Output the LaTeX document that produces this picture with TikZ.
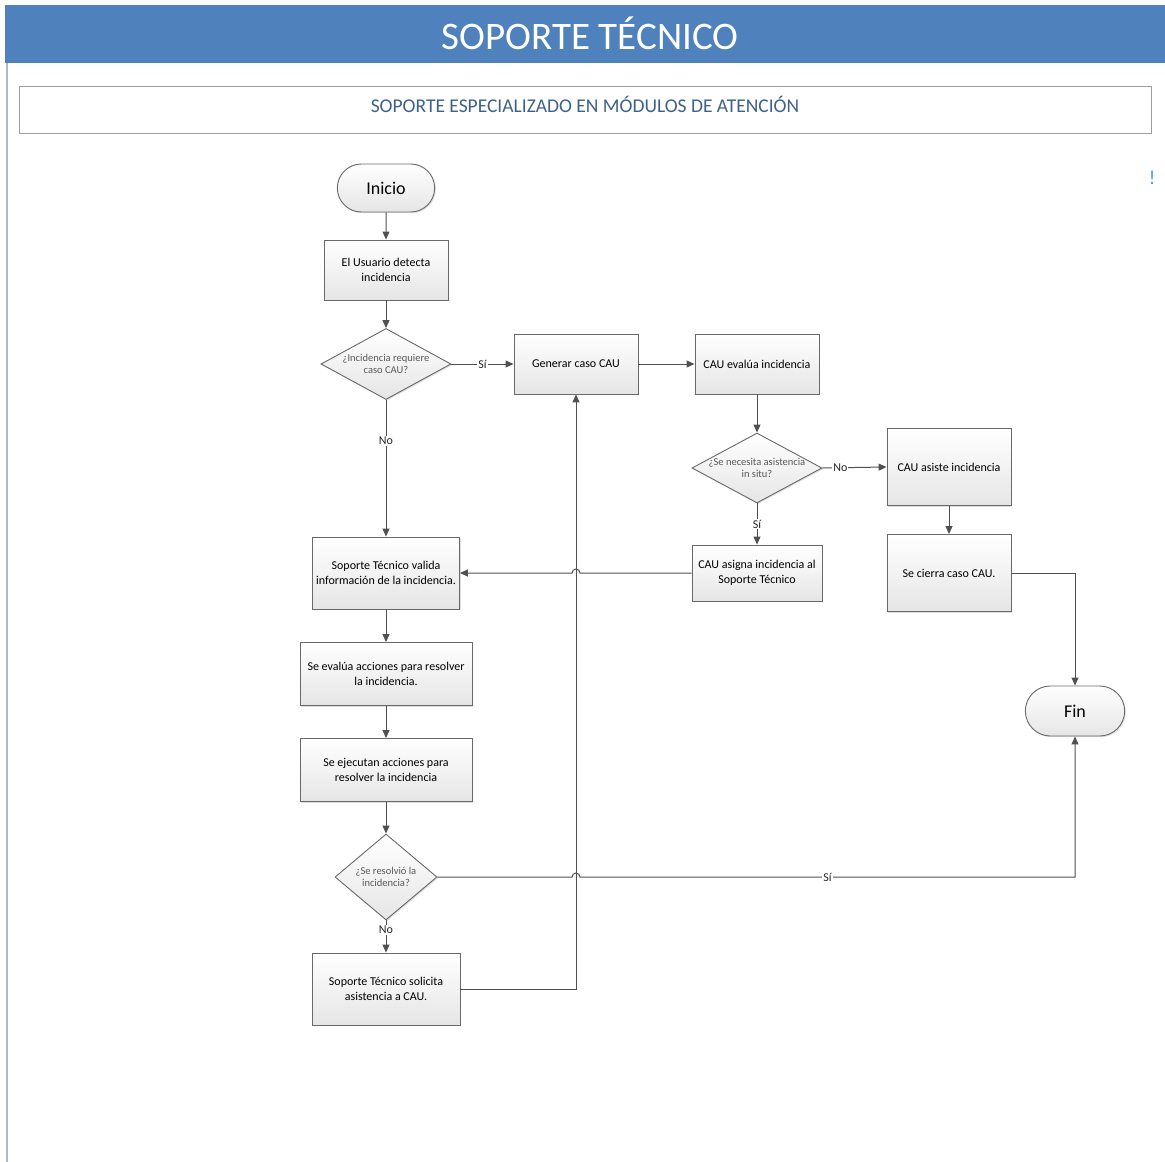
\documentclass[tikz,border=0pt]{standalone}
\usepackage{fontspec}
\setmainfont{Carlito}
\usetikzlibrary{arrows.meta, shapes.geometric, shapes.misc, shadows, calc}
\definecolor{headblue}{RGB}{79,129,189}
\definecolor{subblue}{RGB}{62,98,138}
\definecolor{boxline}{RGB}{105,105,105}
\definecolor{flowline}{RGB}{80,80,80}
\definecolor{framegray}{RGB}{176,186,198}
\definecolor{marktone}{RGB}{60,160,220}

\begin{document}
\begin{tikzpicture}[x=1pt, y=-1pt,
    shaded/.style={draw=boxline, line width=0.9pt, top color=white, bottom color=black!10,
        drop shadow={shadow xshift=1.2pt, shadow yshift=-1.2pt, opacity=0.25}},
    box/.style={rectangle, shaded, align=center, inner sep=2pt, font=\fontsize{12}{15}\selectfont},
    terminal/.style={rounded rectangle, shaded, font=\fontsize{18}{20}\selectfont},
    decision/.style={diamond, shaded, inner sep=0pt},
    dtext/.style={align=center, inner sep=0pt, text=black!65, font=\fontsize{10.5}{12.5}\selectfont},
    lbl/.style={fill=white, inner sep=1pt, text=black!85, font=\fontsize{12}{14}\selectfont},
    flow/.style={draw=flowline, line width=1pt, -{Triangle[length=8pt, width=7pt]}}
]
        \useasboundingbox (0,0) rectangle (1165,1162);
        
        % header and frame
        \fill[headblue] (5,5) rectangle (1165,63);
        \node[text=white, font=\fontsize{39}{44}\selectfont] (title) at (590,33) {SOPORTE TÉCNICO};
        \draw[framegray, line width=2pt] (7,63) -- (7,1162);
        \draw[draw=black!38, line width=1pt, fill=white,
            drop shadow={shadow xshift=1pt, shadow yshift=-1pt, opacity=0.2}] (19,86) rectangle (1151,133);
        \node[text=subblue, font=\fontsize{19.5}{22}\selectfont] (lane) at (585,104) {SOPORTE ESPECIALIZADO EN MÓDULOS DE ATENCIÓN};
        \node[text=marktone, font=\fontsize{20}{22}\selectfont] (mark) at (1152,178) {!};
        
        % left column
        \node[terminal, minimum width=104pt, minimum height=48pt] (inicio) at (386,188) {Inicio};
        \node[box, minimum width=124pt, minimum height=60pt] (usuario) at (386,270) {El Usuario detecta\\incidencia};
        \node[decision, minimum width=130pt, minimum height=71pt,
            label={[dtext]center:{¿Incidencia requiere\\caso CAU?}}] (requiere) at (386,364) {};
        \node[box, minimum width=147pt, minimum height=72pt] (valida) at (386,573) {Soporte Técnico valida\\información de la incidencia.};
        \node[box, minimum width=172pt, minimum height=63pt] (evalua) at (386,674) {Se evalúa acciones para resolver\\la incidencia.};
        \node[box, minimum width=172pt, minimum height=63pt] (ejecuta) at (386,770) {Se ejecutan acciones para\\resolver la incidencia};
        \node[decision, minimum width=102pt, minimum height=86pt,
            label={[dtext]center:{¿Se resolvió la\\incidencia?}}] (resolvio) at (386,877) {};
        \node[box, minimum width=148pt, minimum height=72pt] (solicita) at (386,989) {Soporte Técnico solicita\\asistencia a CAU.};
        
        % CAU column
        \node[box, minimum width=124pt, minimum height=60pt] (generar) at (576,364) {Generar caso CAU};
        \node[box, minimum width=124pt, minimum height=60pt] (cauevalua) at (757,364) {CAU evalúa incidencia};
        \node[decision, minimum width=130pt, minimum height=70pt,
            label={[dtext]center:{¿Se necesita asistencia\\in situ?}}] (insitu) at (757,468) {};
        \node[box, minimum width=130pt, minimum height=56pt] (asigna) at (757,573) {CAU asigna incidencia al\\Soporte Técnico};
        \node[box, minimum width=124pt, minimum height=77pt] (asiste) at (949,467) {CAU asiste incidencia};
        \node[box, minimum width=124pt, minimum height=77pt] (cierra) at (949,573) {Se cierra caso CAU.};
        \node[terminal, minimum width=106pt, minimum height=50pt] (fin) at (1075,711) {Fin};
        
        % connectors
        \draw[flow] (inicio) -- (usuario);
        \draw[flow] (usuario) -- (requiere);
        \draw[flow] (requiere.east) -- node[lbl]{Sí} (generar.west);
        \draw[flow] (requiere.south) -- node[lbl, pos=0.3]{No} (valida.north);
        \draw[flow] (generar) -- (cauevalua);
        \draw[flow] (cauevalua) -- (insitu);
        \draw[flow] (insitu.east) -- node[lbl, pos=0.28]{No} (asiste.west);
        \draw[flow] (insitu.south) -- node[lbl]{Sí} (asigna.north);
        \draw[flow] (asiste) -- (cierra);
        \draw[flow] (cierra.east) -- (cierra.east -| fin.north) -- (fin.north);
        \draw[flow] (asigna.west) -- ($(asigna.west -| generar.south)+(4,0)$)
            arc[start angle=0, end angle=180, radius=4pt] -- (valida.east);
        \draw[flow] (valida) -- (evalua);
        \draw[flow] (evalua) -- (ejecuta);
        \draw[flow] (ejecuta) -- (resolvio);
        \draw[flow] (resolvio.south) -- node[lbl, pos=0.3]{No} (solicita.north);
        \draw[flow] (resolvio.east) -- ($(resolvio.east -| generar.south)+(-4,0)$)
            arc[start angle=180, end angle=0, radius=4pt] -- node[lbl]{Sí} (resolvio.east -| fin.south) -- (fin.south);
        \draw[flow] (solicita.east) -- (solicita.east -| generar.south) -- (generar.south);
    \end{tikzpicture}
\end{document}
